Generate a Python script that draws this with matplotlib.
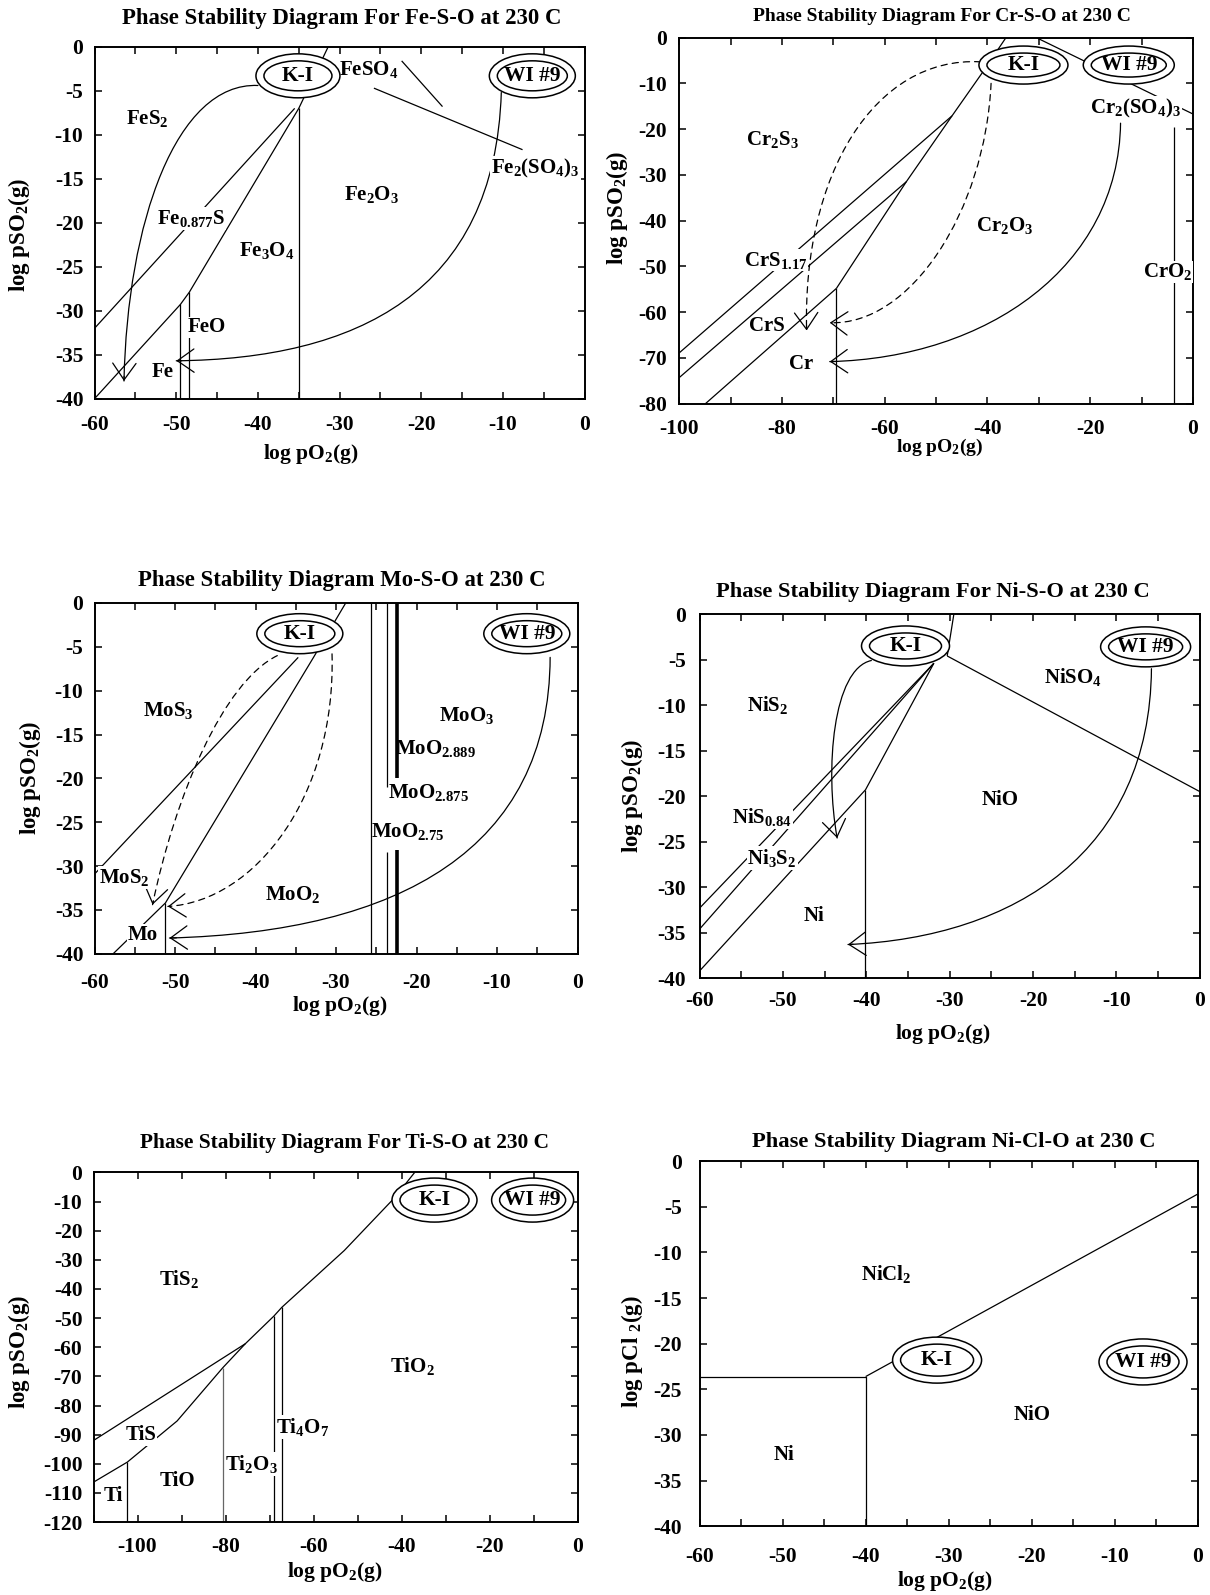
import matplotlib
matplotlib.use("Agg")
import matplotlib.pyplot as plt
from matplotlib.patches import Ellipse, FancyArrowPatch
from matplotlib.path import Path
from matplotlib.ticker import MultipleLocator

# ====================== DATA ======================
# ---- Fe-S-O ----
fe_lines = [
    [(-60, -40), (-49.5, -29.3), (-48.4, -27.9), (-35.0, -7.0), (-31.4, 0)],
    [(-60, -32.0), (-35.5, -7.0)],
    [(-35.0, -40), (-35.0, -7.0)],
    [(-49.5, -40), (-49.5, -29.3)],
    [(-48.4, -40), (-48.4, -27.9)],
    [(-25.8, -4.7), (-7.6, -11.7)],
    [(-22.4, -1.6), (-17.4, -6.8)],
]
fe_arrows = [
    [(-40.0, -4.4), (-50.0, -4.0), (-56.0, -20.0), (-56.4, -38.0)],
    [(-10.2, -5.2), (-11.0, -28.0), (-28.0, -35.5), (-50.0, -35.7)],
]
fe_arrow_dashed = [False, False]
fe_labels = [
    ("FeS$_2$", -53.6, -8.2),
    ("Fe$_{0.877}$S", -48.2, -19.5),
    ("Fe$_3$O$_4$", -38.9, -23.2),
    ("Fe$_2$O$_3$", -26.1, -16.8),
    ("FeO", -46.3, -31.9),
    ("Fe", -51.7, -37.0),
    ("FeSO$_4$", -26.4, -2.6),
    ("Fe$_2$(SO$_4$)$_3$", -6.0, -13.8),
]
fe_masked = {"Fe$_{0.877}$S", "FeO", "Fe$_2$(SO$_4$)$_3$"}
fe_sites = [("K-I", -35.1, -3.3), ("WI #9", -6.4, -3.3)]

# ---- Cr-S-O ----
cr_lines = [
    [(-100, -68.9), (-46.9, -17.1)],
    [(-100, -74.3), (-55.8, -31.5)],
    [(-94.9, -80), (-69.4, -54.8)],
    [(-69.4, -54.8), (-55.8, -31.5), (-46.9, -17.1), (-40.9, -7.5), (-36.4, 0)],
    [(-69.4, -80), (-69.4, -54.8)],
    [(-30.5, 0), (0, -16.7)],
    [(-3.7, -80), (-3.7, -19.5)],
]
cr_arrows = [
    [(-41.3, -5.3), (-62.0, -4.0), (-76.0, -30.0), (-75.2, -64.0)],
    [(-39.3, -10.0), (-40.5, -38.0), (-55.0, -63.0), (-70.7, -62.3)],
    [(-14.1, -18.7), (-14.5, -50.0), (-40.0, -70.0), (-70.7, -70.8)],
]
cr_arrow_dashed = [True, True, False]
cr_labels = [
    ("Cr$_2$S$_3$", -81.8, -22.2),
    ("Cr$_2$O$_3$", -36.7, -41.0),
    ("CrS$_{1.17}$", -81.3, -48.6),
    ("CrS", -83.0, -63.1),
    ("Cr", -76.2, -71.4),
    ("Cr$_2$(SO$_4$)$_3$", -11.2, -15.4),
    ("CrO$_2$", -5.0, -51.2),
]
cr_masked = {"CrS$_{1.17}$", "Cr$_2$(SO$_4$)$_3$", "CrO$_2$"}
cr_sites = [("K-I", -33.0, -6.0), ("WI #9", -12.5, -6.0)]

# ---- Mo-S-O ----
mo_lines = [
    [(-60, -30.9), (-34.7, -6.2)],
    [(-57.7, -40), (-51.2, -34.2), (-32.8, -6.2), (-28.8, 0)],
    [(-51.2, -40), (-51.2, -34.2)],
    [(-25.6, -40), (-25.6, 0)],
    [(-23.7, 0), (-23.7, -21.0)],
    [(-23.7, -28.4), (-23.7, -40)],
]
mo_thick_lines = [
    [(-22.4, 0), (-22.4, -20.0)],
    [(-22.4, -28.2), (-22.4, -40)],
]
mo_arrows = [
    [(-37.3, -6.0), (-44.0, -9.0), (-50.0, -22.0), (-52.8, -34.4)],
    [(-30.5, -5.8), (-30.0, -22.0), (-40.0, -34.0), (-50.9, -34.6)],
    [(-3.4, -6.2), (-3.5, -28.0), (-22.0, -37.5), (-50.7, -38.2)],
]
mo_arrow_dashed = [True, True, False]
mo_labels = [
    ("MoS$_3$", -50.9, -12.3),
    ("MoO$_3$", -13.8, -12.8),
    ("MoO$_{2.889}$", -17.6, -16.6),
    ("MoO$_{2.875}$", -18.5, -21.6),
    ("MoO$_{2.75}$", -21.1, -26.0),
    ("MoO$_2$", -35.4, -33.2),
    ("MoS$_2$", -56.3, -31.3),
    ("Mo", -54.0, -37.8),
]
mo_masked = {"MoS$_2$", "Mo"}
mo_sites = [("K-I", -34.5, -3.5), ("WI #9", -6.3, -3.5)]

# ---- Ni-S-O ----
ni_lines = [
    [(-60, -32.3), (-31.9, -5.4)],
    [(-60, -34.6), (-31.9, -5.4)],
    [(-60, -39.2), (-40.1, -19.3), (-31.9, -5.4)],
    [(-40.1, -40), (-40.1, -19.3)],
    [(-30.3, -4.6), (0, -19.5)],
    [(-30.3, -4.6), (-29.5, 0)],
]
ni_arrows = [
    [(-39.4, -5.1), (-44.0, -6.0), (-45.0, -17.0), (-43.5, -24.6)],
    [(-5.8, -6.0), (-6.0, -26.0), (-22.0, -35.5), (-42.2, -36.3)],
]
ni_arrow_dashed = [False, False]
ni_labels = [
    ("NiS$_2$", -51.8, -10.0),
    ("NiSO$_4$", -15.2, -6.9),
    ("NiO", -23.9, -20.4),
    ("NiS$_{0.84}$", -52.5, -22.3),
    ("Ni$_3$S$_2$", -51.3, -26.8),
    ("Ni", -46.3, -33.2),
]
ni_masked = {"NiS$_{0.84}$", "Ni$_3$S$_2$"}
ni_sites = [("K-I", -35.3, -3.5), ("WI #9", -6.5, -3.6)]

# ---- Ti-S-O ----
ti_lines = [
    [(-110, -92.0), (-75.5, -58.8), (-69.0, -49.3), (-67.2, -46.3),
     (-53.0, -26.8), (-41.7, -8.9), (-37.0, 0)],
    [(-110, -106.3), (-102.3, -99.4), (-91.0, -85.3), (-80.6, -67.0), (-75.5, -58.8)],
    [(-102.3, -120), (-102.3, -99.4)],
    [(-69.0, -120), (-69.0, -49.3)],
    [(-67.2, -120), (-67.2, -46.3)],
]
ti_gray_lines = [
    [(-80.6, -120), (-80.6, -67.0)],
]
ti_labels = [
    ("TiS$_2$", -90.6, -36.6),
    ("TiO$_2$", -37.5, -66.5),
    ("Ti$_4$O$_7$", -62.4, -87.3),
    ("Ti$_2$O$_3$", -74.0, -100.0),
    ("TiS", -99.3, -90.2),
    ("TiO", -91.0, -105.8),
    ("Ti", -105.6, -111.0),
]
ti_masked = {"Ti$_4$O$_7$", "Ti$_2$O$_3$", "TiS"}
ti_sites = [("K-I", -32.5, -9.5), ("WI #9", -10.2, -9.5)]

# ---- Ni-Cl-O ----
nicl_lines = [
    [(-60, -23.6), (-40, -23.6), (-40, -40)],
    [(-40, -23.6), (0, -3.6)],
]
nicl_labels = [
    ("NiCl$_2$", -37.5, -12.4),
    ("NiO", -20.0, -27.8),
    ("Ni", -49.8, -32.2),
]
nicl_sites = [("K-I", -31.4, -21.8), ("WI #9", -6.6, -22.0)]

# ====================== STYLE / LAYOUT ======================
W, H = 1210, 1595
plt.rcParams["font.family"] = ["Liberation Serif", "DejaVu Serif"]
plt.rcParams["font.weight"] = "bold"
plt.rcParams["mathtext.fontset"] = "custom"
plt.rcParams["mathtext.rm"] = "Liberation Serif:bold"
plt.rcParams["mathtext.it"] = "Liberation Serif:bold"
plt.rcParams["mathtext.bf"] = "Liberation Serif:bold"
plt.rcParams["mathtext.default"] = "rm"
plt.rcParams["axes.unicode_minus"] = False

fig = plt.figure(figsize=(W / 100, H / 100), dpi=100)

panels = [
    dict(title="Phase Stability Diagram For Fe-S-O at 230 C", tsize=16.4,
         box=(94.6, 46.8, 584.6, 398.6), title_xy=(342, 18.5), xlab_xy=(311, 454),
         ylab_xy=(19, 235), ylabel="log pSO$_2$(g)", xlsize=15.5,
         xlim=(-60, 0), ylim=(-40, 0), xmaj=10, xmin=5, ymaj=5, xpad=12, ypad=8,
         lines=fe_lines, thick=[], gray=[], arrows=fe_arrows, dashed=fe_arrow_dashed,
         labels=fe_labels, masked=fe_masked, sites=fe_sites, ring=[(84, 44), (86, 44)]),
    dict(title="Phase Stability Diagram For Cr-S-O at 230 C", tsize=14,
         box=(679.2, 37.6, 1193.0, 403.7), title_xy=(942, 16.5), xlab_xy=(940, 447),
         ylab_xy=(617, 208), ylabel="log pSO$_2$(g)", xlsize=14,
         xlim=(-100, 0), ylim=(-80, 0), xmaj=20, xmin=10, ymaj=10, xpad=11, ypad=9,
         lines=cr_lines, thick=[], gray=[], arrows=cr_arrows, dashed=cr_arrow_dashed,
         labels=cr_labels, masked=cr_masked, sites=cr_sites, ring=[(89, 38), (91, 38)]),
    dict(title="Phase Stability Diagram Mo-S-O at 230 C", tsize=16.4,
         box=(94.6, 603.0, 577.5, 953.8), title_xy=(342, 580.6), xlab_xy=(340, 1006),
         ylab_xy=(30, 778), ylabel="log pSO$_2$(g)", xlsize=15.5,
         xlim=(-60, 0), ylim=(-40, 0), xmaj=10, xmin=5, ymaj=5, xpad=14, ypad=8,
         lines=mo_lines, thick=mo_thick_lines, gray=[], arrows=mo_arrows, dashed=mo_arrow_dashed,
         labels=mo_labels, masked=mo_masked, sites=mo_sites, ring=[(86, 40), (86, 40)]),
    dict(title="Phase Stability Diagram For Ni-S-O at 230 C", tsize=16.2,
         box=(699.6, 614.1, 1199.8, 978.2), title_xy=(933, 591.8), xlab_xy=(943, 1034),
         ylab_xy=(632, 796), ylabel="log pSO$_2$(g)", xlsize=15.5,
         xlim=(-60, 0), ylim=(-40, 0), xmaj=10, xmin=5, ymaj=5, xpad=9, ypad=10,
         lines=ni_lines, thick=[], gray=[], arrows=ni_arrows, dashed=ni_arrow_dashed,
         labels=ni_labels, masked=ni_masked, sites=ni_sites, ring=[(88, 40), (90, 40)]),
    dict(title="Phase Stability Diagram For Ti-S-O at 230 C", tsize=15.4,
         box=(93.5, 1172.4, 577.5, 1522.1), title_xy=(345, 1143), xlab_xy=(335, 1572),
         ylab_xy=(19, 1352), ylabel="log pSO$_2$(g)", xlsize=15.5,
         xlim=(-110, 0), ylim=(-120, 0), xmaj=20, xmin=10, ymaj=10, xpad=11, ypad=8,
         lines=ti_lines, thick=[], gray=ti_gray_lines, arrows=[], dashed=[],
         labels=ti_labels, masked=ti_masked, sites=ti_sites, ring=[(85, 44), (82, 44)]),
    dict(title="Phase Stability Diagram Ni-Cl-O at 230 C", tsize=16.2,
         box=(699.6, 1161.2, 1197.8, 1526.2), title_xy=(954, 1142), xlab_xy=(945, 1581),
         ylab_xy=(632, 1352), ylabel="log pCl $_2$(g)", xlsize=15.5,
         xlim=(-60, 0), ylim=(-40, 0), xmaj=10, xmin=5, ymaj=5, xpad=15, ypad=13,
         lines=nicl_lines, thick=[], gray=[], arrows=[], dashed=[],
         labels=nicl_labels, masked=set(), sites=nicl_sites, ring=[(89, 46), (88, 46)]),
]


def draw_poly(ax, pts, **kw):
    xs = [p[0] for p in pts]
    ys = [p[1] for p in pts]
    ax.plot(xs, ys, **kw)


for P in panels:
    l, t, r, b = P["box"]
    ax = fig.add_axes([l / W, 1 - b / H, (r - l) / W, (b - t) / H])
    ax.set_xlim(*P["xlim"])
    ax.set_ylim(*P["ylim"])
    axw, axh = r - l, b - t
    sx = (P["xlim"][1] - P["xlim"][0]) / axw
    sy = (P["ylim"][1] - P["ylim"][0]) / axh

    for s in ax.spines.values():
        s.set_linewidth(1.4)
    ax.xaxis.set_major_locator(MultipleLocator(P["xmaj"]))
    ax.xaxis.set_minor_locator(MultipleLocator(P["xmin"]))
    ax.yaxis.set_major_locator(MultipleLocator(P["ymaj"]))
    ax.tick_params(which="both", direction="in", top=True, right=True,
                   length=5, width=1.1)
    ax.tick_params(axis="x", which="major", labelsize=15.5, pad=P["xpad"])
    ax.tick_params(axis="y", which="major", labelsize=15.5, pad=P["ypad"])
    for lab in ax.get_xticklabels() + ax.get_yticklabels():
        lab.set_fontweight("bold")

    for pts in P["lines"]:
        draw_poly(ax, pts, color="black", lw=0.9, zorder=2, solid_capstyle="butt")
    for pts in P["thick"]:
        draw_poly(ax, pts, color="black", lw=2.6, zorder=2, solid_capstyle="butt")
    for pts in P["gray"]:
        draw_poly(ax, pts, color="#666666", lw=0.9, zorder=2, solid_capstyle="butt")

    for pts, dsh in zip(P["arrows"], P["dashed"]):
        path = Path(pts, [Path.MOVETO, Path.CURVE4, Path.CURVE4, Path.CURVE4])
        body = FancyArrowPatch(path=path, arrowstyle="-", lw=0.9, color="black",
                               linestyle=(0, (5, 4)) if dsh else "-",
                               transform=ax.transData, zorder=3)
        ax.add_patch(body)
        # solid open arrowhead, oriented along the end tangent of the curve
        (x2, y2), (x3, y3) = pts[2], pts[3]
        tail = (x3 + 0.03 * (x2 - x3), y3 + 0.03 * (y2 - y3))
        head = FancyArrowPatch(posA=tail, posB=(x3, y3),
                               arrowstyle="->,head_length=0.6,head_width=0.42",
                               mutation_scale=20, lw=0.9, color="black",
                               shrinkA=0, shrinkB=0, transform=ax.transData, zorder=3)
        ax.add_patch(head)

    for txt, x, y in P["labels"]:
        kw = {}
        if txt in P["masked"]:
            kw["bbox"] = dict(facecolor="white", edgecolor="none", pad=0.6)
        ax.text(x, y, txt, ha="center", va="center", fontsize=15,
                fontweight="bold", zorder=4, **kw)

    for (name, x, y), (ow, oh) in zip(P["sites"], P["ring"]):
        ax.add_patch(Ellipse((x, y), ow * sx, oh * sy, facecolor="white",
                             edgecolor="black", lw=1.1, zorder=5, clip_on=False))
        ax.add_patch(Ellipse((x, y), (ow - 16) * sx, (oh - 14) * sy, facecolor="none",
                             edgecolor="black", lw=1.1, zorder=5, clip_on=False))
        ax.text(x, y, name, ha="center", va="center", fontsize=15.5,
                fontweight="bold", zorder=6)

    fig.text(P["title_xy"][0] / W, 1 - P["title_xy"][1] / H, P["title"],
             ha="center", va="center", fontsize=P["tsize"], fontweight="bold")
    fig.text(P["xlab_xy"][0] / W, 1 - P["xlab_xy"][1] / H, "log pO$_2$(g)",
             ha="center", va="center", fontsize=P["xlsize"], fontweight="bold")
    fig.text(P["ylab_xy"][0] / W, 1 - P["ylab_xy"][1] / H, P["ylabel"],
             ha="center", va="center", rotation=90, fontsize=16.5, fontweight="bold")

fig.savefig("out.png", dpi=100, facecolor="white")
